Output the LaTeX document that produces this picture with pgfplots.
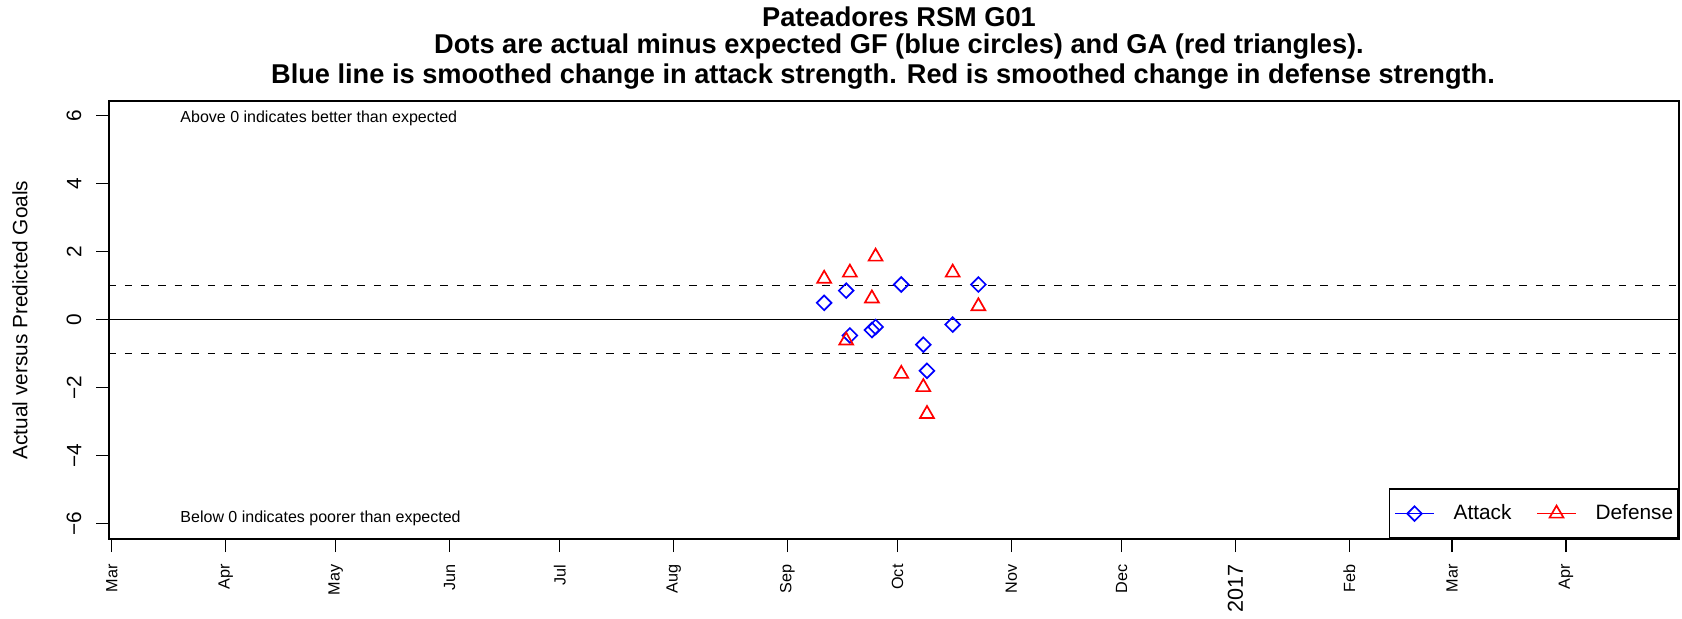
\documentclass[border=0pt]{standalone}
\usepackage{fontspec}
\setmainfont{Liberation Sans}
\usepackage{pgfplots}
\pgfplotsset{compat=1.18}
\begin{document}
\begin{tikzpicture}
\useasboundingbox (0,0) rectangle (841pt,309pt);
\node[font=\bfseries\fontsize{13.6}{15}\selectfont] at (449.5pt,300.5pt) {Pateadores RSM G01};
\node[font=\bfseries\fontsize{13.6}{15}\selectfont] at (449.5pt,285.5pt) {Dots are actual minus expected GF (blue circles) and GA (red triangles).};
\node[font=\bfseries\fontsize{13.6}{15}\selectfont] at (441.5pt,270.5pt) {Blue line is smoothed change in attack strength. Red is smoothed change in defense strength.};
\node[rotate=90, font=\fontsize{10.4}{12}\selectfont] at (10pt,149pt) {Actual versus Predicted Goals};
\begin{axis}[
  at={(54.65pt,39.5pt)}, anchor=south west,
  scale only axis, width=784.85pt, height=219pt,
  xmin=-0.68, xmax=426.8, ymin=-6.46, ymax=6.43,
  axis line style={line width=0.9pt},
  xtick={0,31,61,92,122,153,184,214,245,275,306,337,365,396},
  xticklabels={Mar,Apr,May,Jun,Jul,Aug,Sep,Oct,Nov,Dec,{\fontsize{10.8}{12}\selectfont 2017},Feb,Mar,Apr},
  ytick={-6,-4,-2,0,2,4,6},
  yticklabels={−6,−4,−2,0,2,4,6},
  xtick pos=left, ytick pos=left,
  tick align=outside, major tick length=6.5pt,
  tick style={line width=0.7pt, black},
  xticklabel shift=6pt, yticklabel shift=7.3pt,
  xticklabel style={rotate=90, anchor=east, inner sep=0pt, font=\fontsize{8.1}{9}\selectfont},
  yticklabel style={rotate=90, anchor=south, inner sep=0pt, font=\fontsize{10.4}{12}\selectfont},
  legend columns=2,
  legend style={at={(rel axis cs:1,0)}, anchor=south east, draw=black, line width=0.9pt,
    font=\fontsize{10.4}{12}\selectfont, inner xsep=2.5pt, inner ysep=7.5pt,
    nodes={inner sep=0pt, text height=7.5pt, text depth=2pt},
    /tikz/every odd column/.style={column sep=9.5pt},
    /tikz/every even column/.style={column sep=12.5pt}},
  legend image code/.code={\draw[mark repeat=2,mark phase=2,#1] plot coordinates {(0pt,0pt) (9.75pt,0pt) (19.5pt,0pt)};},
]
\addplot[black, line width=0.8pt, forget plot] coordinates {(-10,0) (440,0)};
\addplot[black, line width=0.8pt, dash pattern=on 3.8pt off 4.5pt, forget plot] coordinates {(-10,1) (440,1)};
\addplot[black, line width=0.8pt, dash pattern=on 3.8pt off 4.5pt, forget plot] coordinates {(-10,-1) (440,-1)};
\addplot[only marks, color={rgb,255:red,0;green,0;blue,255}, mark=square, mark size=2.6pt, mark options={rotate=45, line width=0.85pt}, forget plot] coordinates {
(194,0.49) (200,0.85) (201,-0.47) (207,-0.31) (208,-0.22) (215,1.03) (221,-0.74) (222,-1.51) (229,-0.15) (236,1.03)};
\addplot[only marks, color={rgb,255:red,255;green,0;blue,0}, mark=triangle, mark size=4pt, mark options={line width=0.85pt}, forget plot] coordinates {
(194,1.20) (200,-0.62) (201,1.38) (207,0.62) (208,1.85) (215,-1.60) (221,-1.99) (222,-2.78) (229,1.38) (236,0.39)};
\node[anchor=west, inner sep=0pt, font=\fontsize{8}{9}\selectfont] at (axis cs:18.6,5.93) {Above 0 indicates better than expected};
\node[anchor=west, inner sep=0pt, font=\fontsize{8}{9}\selectfont] at (axis cs:18.6,-5.85) {Below 0 indicates poorer than expected};
\addlegendimage{color={rgb,255:red,0;green,0;blue,255}, line width=0.6pt, mark=square, mark size=2.6pt, mark options={rotate=45, line width=0.85pt}}
\addlegendentry{Attack}
\addlegendimage{color={rgb,255:red,255;green,0;blue,0}, line width=0.6pt, mark=triangle, mark size=4pt, mark options={line width=0.85pt}}
\addlegendentry{Defense}
\end{axis}
\end{tikzpicture}
\end{document}
